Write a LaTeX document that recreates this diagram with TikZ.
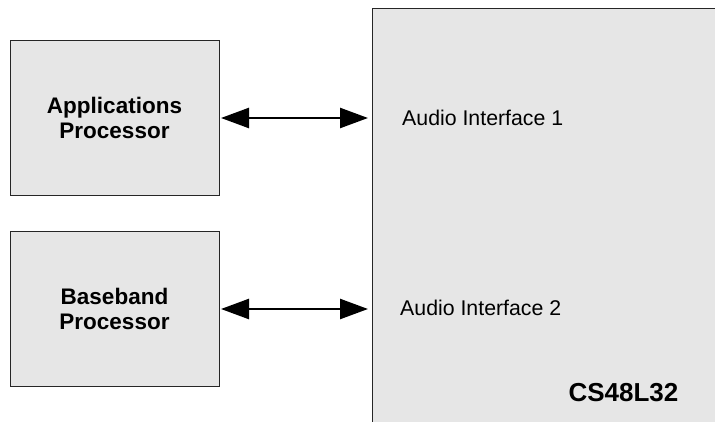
\documentclass[tikz,border=0pt]{standalone}
\usepackage{fontspec}
\setmainfont{Liberation Sans}
\usepackage{tikz}
\usetikzlibrary{arrows.meta,positioning}
\definecolor{BoxFill}{HTML}{E6E6E6}

\begin{document}
\begin{tikzpicture}[x=1pt,y=1pt,
    proc/.style={draw=black!85,line width=1pt,fill=BoxFill,align=center,inner sep=0pt,outer sep=0pt,
      minimum width=209pt,minimum height=155pt,font=\fontsize{22.5}{25}\selectfont\bfseries},
    link/.style={line width=2.5pt,{Triangle[length=28pt,width=20pt]}-{Triangle[length=28pt,width=20pt]},shorten <=2pt,shorten >=4pt},
    port/.style={anchor=west,inner sep=0pt,font=\fontsize{21.3}{25}\selectfont}]
  \useasboundingbox (0,0) rectangle (715,421);
  % chip on the right, runs off the page
  \node[draw=black!85,line width=1pt,fill=BoxFill,anchor=north west,minimum width=400pt,minimum height=440pt,inner sep=0pt,outer sep=0pt] (chip) at (372,412) {};
  \node[proc] (ap) at (114.5,303) {Applications\\Processor};
  \node[proc,below=36pt of ap] (bb) {Baseband\\Processor};
  \node[port] (if1) at (402,303) {Audio Interface 1};
  \node[port] (if2) at (400,113) {Audio Interface 2};
  \node[font=\fontsize{26}{30}\selectfont\bfseries] (name) at (623.5,28) {CS48L32};
  \draw[link] (ap.east) -- (chip.west |- ap.east);
  \draw[link] (bb.east) -- (chip.west |- bb.east);
\end{tikzpicture}
\end{document}
